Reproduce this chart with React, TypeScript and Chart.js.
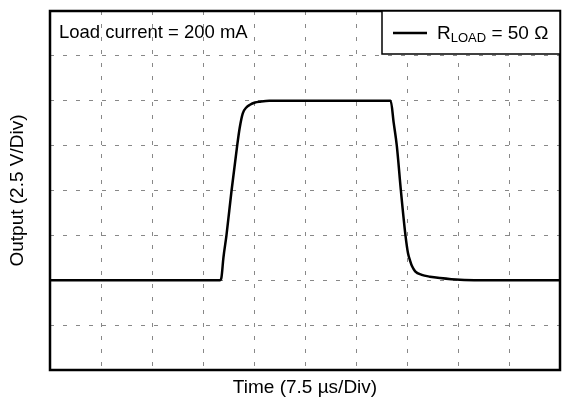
import React, { useEffect, useRef } from "react";
import { Chart, registerables } from "chart.js";

Chart.register(...registerables);

// Time in divisions (7.5 µs/Div), output in divisions (2.5 V/Div)
const timeDiv = [0, 3.33, 3.36, 3.4, 3.46, 3.56, 3.67, 3.72, 3.78, 3.85, 3.92, 4.02, 4.12, 4.3, 6.68, 6.74, 6.8, 6.88, 6.97, 7.02, 7.06, 7.1, 7.16, 7.29, 7.45, 7.65, 8.04, 8.43, 10];
const outputDiv = [2, 2, 2.05, 2.5, 3.0, 4.0, 5.0, 5.4, 5.72, 5.85, 5.91, 5.96, 5.98, 6.0, 6.0, 5.5, 5.0, 4.0, 3.0, 2.6, 2.44, 2.31, 2.2, 2.12, 2.08, 2.05, 2.01, 2.0, 2.0];

const xDivisions = [0, 10];
const yDivisions = [0, 8];

const xTitle = "Time (7.5 µs/Div)";
const yTitle = "Output (2.5 V/Div)";
const annotationText = "Load current = 200 mA";
const legendMain = "R";
const legendSub = "LOAD";
const legendRest = " = 50 Ω";

const FONT = "'Liberation Sans', Arial, sans-serif";

export default function App() {
  const ref = useRef<HTMLCanvasElement>(null);

  useEffect(() => {
    if (!ref.current) return;
    const overlay = {
      id: "overlay",
      afterDatasetsDraw(chart: any) {
        const { ctx, chartArea: a } = chart;
        ctx.save();
        // frame
        ctx.strokeStyle = "#000";
        ctx.lineWidth = 2.5;
        ctx.setLineDash([]);
        ctx.strokeRect(a.left, a.top, a.right - a.left, a.bottom - a.top);

        // annotation
        ctx.fillStyle = "#000";
        ctx.font = `18.5px ${FONT}`;
        ctx.textBaseline = "alphabetic";
        ctx.textAlign = "left";
        ctx.fillText(annotationText, a.left + 9, a.top + 27);

        // legend box
        const bx = a.right - 178;
        const by = a.top;
        const bw = 178;
        const bh = 43;
        ctx.fillStyle = "#fff";
        ctx.fillRect(bx, by, bw, bh);
        ctx.strokeStyle = "#000";
        ctx.lineWidth = 1.5;
        ctx.strokeRect(bx, by, bw, bh);
        ctx.lineWidth = 2.5;
        ctx.beginPath();
        ctx.moveTo(bx + 11, by + 22);
        ctx.lineTo(bx + 45, by + 22);
        ctx.stroke();
        ctx.fillStyle = "#000";
        let tx = bx + 55;
        const base = by + 28;
        ctx.font = `19px ${FONT}`;
        ctx.fillText(legendMain, tx, base);
        tx += ctx.measureText(legendMain).width;
        ctx.font = `13px ${FONT}`;
        ctx.fillText(legendSub, tx, base + 3);
        tx += ctx.measureText(legendSub).width;
        ctx.font = `19px ${FONT}`;
        ctx.fillText(legendRest, tx, base);

        // axis titles
        ctx.font = `19px ${FONT}`;
        ctx.textAlign = "center";
        ctx.textBaseline = "middle";
        ctx.fillText(xTitle, (a.left + a.right) / 2, a.bottom + 18);
        ctx.translate(18, (a.top + a.bottom) / 2);
        ctx.rotate(-Math.PI / 2);
        ctx.fillText(yTitle, 0, 0);
        ctx.restore();
      },
    };

    const chart = new Chart(ref.current, {
      type: "line",
      data: {
        datasets: [
          {
            data: timeDiv.map((t, i) => ({ x: t, y: outputDiv[i] })),
            borderColor: "#000",
            borderWidth: 2.5,
            pointRadius: 0,
            fill: false,
            cubicInterpolationMode: "monotone",
          },
        ],
      },
      options: {
        animation: false,
        responsive: false,
        events: [],
        layout: { padding: { left: 50, right: 27, top: 11, bottom: 32 } },
        plugins: { legend: { display: false }, tooltip: { enabled: false } },
        scales: {
          x: {
            type: "linear",
            min: xDivisions[0],
            max: xDivisions[1],
            ticks: { display: false, stepSize: 1 },
            grid: { color: "#888", lineWidth: 1, drawTicks: false },
            border: { display: false, dash: [4, 9] },
          },
          y: {
            type: "linear",
            min: yDivisions[0],
            max: yDivisions[1],
            ticks: { display: false, stepSize: 1 },
            grid: { color: "#888", lineWidth: 1, drawTicks: false },
            border: { display: false, dash: [4, 9] },
          },
        },
      },
      plugins: [overlay],
    } as any);
    return () => chart.destroy();
  }, []);

  return (
    <div style={{ position: "fixed", left: 0, top: 0, width: 587, height: 402, background: "#fff" }}>
      <canvas ref={ref} width={587} height={402} />
    </div>
  );
}
